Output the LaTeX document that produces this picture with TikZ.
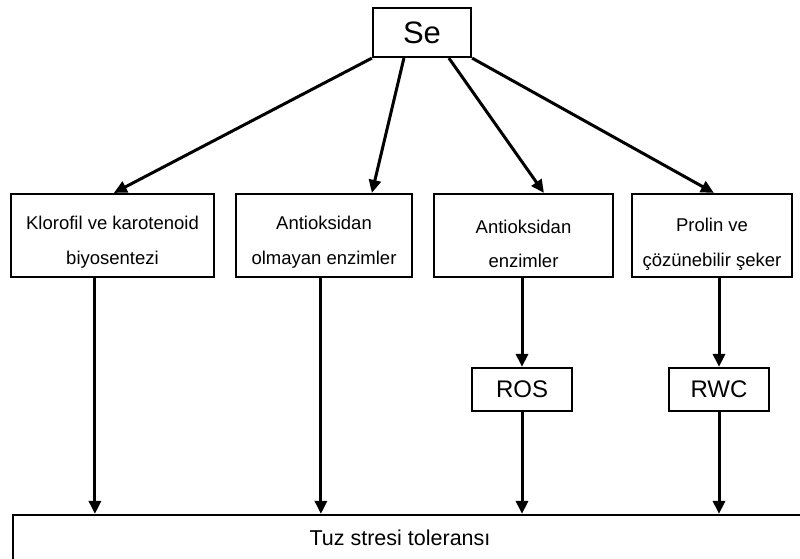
\documentclass[tikz,border=0pt]{standalone}
\usepackage{fontspec}
\setmainfont{Liberation Sans}
\usetikzlibrary{arrows.meta,calc}
\begin{document}
\begin{tikzpicture}[x=1pt,y=-1pt,
  box/.style={draw=black,line width=2.2pt,rectangle,inner sep=0pt},
  lbl/.style={align=center,inner sep=0pt,font=\fontsize{18.5}{34.5}\selectfont},
  arr/.style={line width=3pt,-{Triangle[length=13pt,width=12pt]}}]
\useasboundingbox (0,0) rectangle (800,558);
\fill[white] (0,0) rectangle (800,558);
% Se
\node[box,minimum width=98pt,minimum height=49pt,font=\fontsize{31}{36}\selectfont] (se) at (422,32.5) {Se};
% level boxes
\node[box,minimum width=203pt,minimum height=83pt] (b1) at (112.5,235.5) {};
\node[box,minimum width=176pt,minimum height=83pt] (b2) at (324,235.5) {};
\node[box,minimum width=179pt,minimum height=83pt] (b3) at (523.5,235.5) {};
\node[box,minimum width=160pt,minimum height=83pt] (b4) at (712,235.5) {};
\node[lbl] (t1) at (112.5,242) {Klorofil ve karotenoid\\biyosentezi};
\node[lbl] (t2) at (324,242) {Antioksidan\\olmayan enzimler};
\node[lbl] (t3) at (523.5,244) {Antioksidan\\enzimler};
\node[lbl] (t4) at (712,244) {Prolin ve\\çözünebilir şeker};
% ROS / RWC
\node[box,minimum width=100pt,minimum height=43pt,font=\fontsize{24}{28}\selectfont] (ros) at (522,389.5) {ROS};
\node[box,minimum width=100pt,minimum height=43pt,font=\fontsize{24}{28}\selectfont] (rwc) at (719,389.5) {RWC};
% bottom
\node[box,minimum width=800pt,minimum height=70pt] (tuz) at (413,550) {};
\node[inner sep=0pt,font=\fontsize{21.5}{26}\selectfont] (tuzt) at (400,538) {Tuz stresi toleransı};
% coordinates
\coordinate (s1) at ($(se.south west)+(32,0)$);
\coordinate (s2) at ($(se.south west)+(77,0)$);
\coordinate (e1) at ($(b1.north west)+(104,0)$);
\coordinate (e2) at ($(b2.north west)+(137,0)$);
\coordinate (e3) at ($(b3.north west)+(111,0)$);
\coordinate (e4) at ($(b4.north west)+(83,0)$);
\coordinate (d1) at ($(b1.south west)+(85,0)$);
\coordinate (d2) at ($(b2.south west)+(86,0)$);
% arrows from Se
\draw[arr] (se.south west) -- (e1);
\draw[arr] (s1) -- (e2);
\draw[arr] (s2) -- (e3);
\draw[arr] (se.south east) -- (e4);
% down arrows
\draw[arr] (d1) -- (d1 |- tuz.north);
\draw[arr] (d2) -- (d2 |- tuz.north);
\draw[arr] (b3.south -| ros.north) -- (ros.north);
\draw[arr] (ros.south) -- (ros.south |- tuz.north);
\draw[arr] (b4.south -| rwc.north) -- (rwc.north);
\draw[arr] (rwc.south) -- (rwc.south |- tuz.north);
\end{tikzpicture}
\end{document}
